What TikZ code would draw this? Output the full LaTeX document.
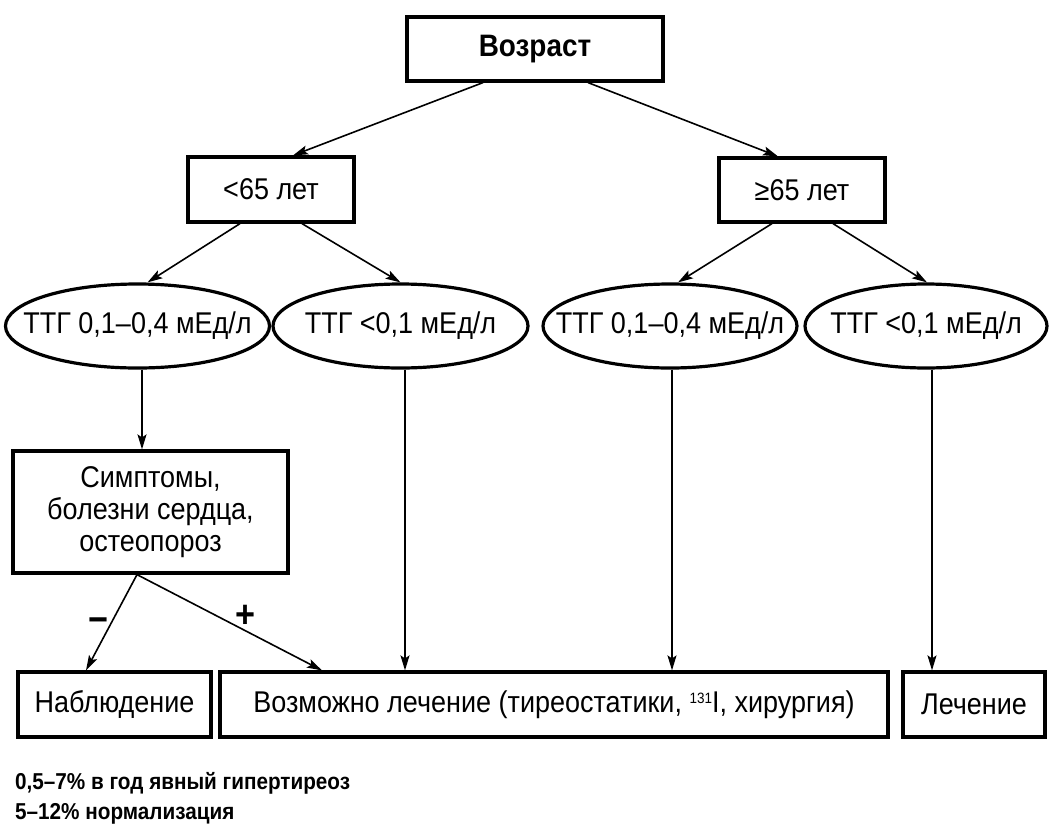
\documentclass[tikz,border=0pt]{standalone}
\usepackage{fontspec}
\setmainfont{Liberation Sans}[FakeStretch=0.9]
\usetikzlibrary{shapes.geometric,arrows.meta,calc}
\begin{document}
\begin{tikzpicture}[x=1pt,y=-1pt,
  box/.style={draw, line width=3.2pt, inner sep=0pt, align=center, font=\fontsize{30}{32}\selectfont},
  oval/.style={draw, ellipse, line width=3.2pt, inner sep=0pt},
  lbl/.style={inner sep=0pt, font=\fontsize{30}{32}\selectfont},
  sign/.style={inner sep=0pt, font=\fontsize{38}{38}\selectfont\bfseries},
  arr/.style={line width=1.6pt, -{Stealth[length=15pt,width=9pt,inset=3pt]}},
]
\useasboundingbox[fill=white] (0,0) rectangle (1049,825);

\node[box, minimum width=256pt, minimum height=64pt, font=\fontsize{31}{32}\selectfont\bfseries] (age) at (535,49) {Возраст};
\node[box, minimum width=166pt, minimum height=65pt] (lt) at (271,189.5) {<65 лет};
\node[box, minimum width=166pt, minimum height=64pt] (ge) at (802,190) {≥65 лет};

\node[oval, minimum width=264pt, minimum height=84pt] (e1) at (137.5,326) {};
\node[lbl] (t1) at (e1) {ТТГ 0,1–0,4 мЕд/л};
\node[oval, minimum width=255pt, minimum height=84pt] (e2) at (400.5,326) {};
\node[lbl] (t2) at (e2) {ТТГ <0,1 мЕд/л};
\node[oval, minimum width=254pt, minimum height=84pt] (e3) at (670,326) {};
\node[lbl] (t3) at (e3) {ТТГ 0,1–0,4 мЕд/л};
\node[oval, minimum width=242pt, minimum height=84pt] (e4) at (926,326) {};
\node[lbl] (t4) at (e4) {ТТГ <0,1 мЕд/л};

\node[box, minimum width=275pt, minimum height=122pt] (sym) at (150.5,512) {Симптомы,\\болезни сердца,\\остеопороз};

\node[box, minimum width=193pt, minimum height=65pt] (obs) at (114.5,704.5) {Наблюдение};
\node[box, minimum width=668pt, minimum height=65pt] (poss) at (554,704.5) {Возможно лечение (тиреостатики, \raisebox{0.55ex}{\fontsize{15}{15}\selectfont 131}I, хирургия)};
\node[box, minimum width=142pt, minimum height=65pt] (treat) at (974,704.5) {Лечение};

\node[anchor=north west, inner sep=0pt, align=left, font=\fontsize{23}{30}\selectfont\bfseries] (notes) at (15,772) {0,5–7\% в год явный гипертиреоз\\5–12\% нормализация};

\draw[arr] ([xshift=-52pt]age.south) -- ([xshift=22pt]lt.north);
\draw[arr] ([xshift=53pt]age.south) -- ([xshift=-24pt]ge.north);
\draw[arr] ([xshift=-31pt]lt.south) -- ([xshift=10pt]e1.north);
\draw[arr] ([xshift=31pt]lt.south) -- (e2.north);
\draw[arr] ([xshift=-30pt]ge.south) -- ([xshift=8pt]e3.north);
\draw[arr] ([xshift=31pt]ge.south) -- ([xshift=1pt]e4.north);

\coordinate (a1) at ([xshift=4.5pt]e1.south);
\draw[arr] (a1) -- (a1 |- sym.north);
\coordinate (a2) at ([xshift=4.5pt]e2.south);
\draw[arr] (a2) -- (a2 |- poss.north);
\coordinate (a3) at ([xshift=2pt]e3.south);
\draw[arr] (a3) -- (a3 |- poss.north);
\coordinate (a4) at ([xshift=6pt]e4.south);
\draw[arr] (a4) -- (a4 |- treat.north);

\coordinate (s0) at ([xshift=-13.5pt]sym.south);
\draw[arr] (s0) -- ([xshift=-28.5pt]obs.north);
\draw[arr] (s0) -- ([xshift=-232pt]poss.north);
\node[sign] (minus) at (98,625) {−};
\node[sign] (plus) at (245,616) {+};
\end{tikzpicture}
\end{document}
